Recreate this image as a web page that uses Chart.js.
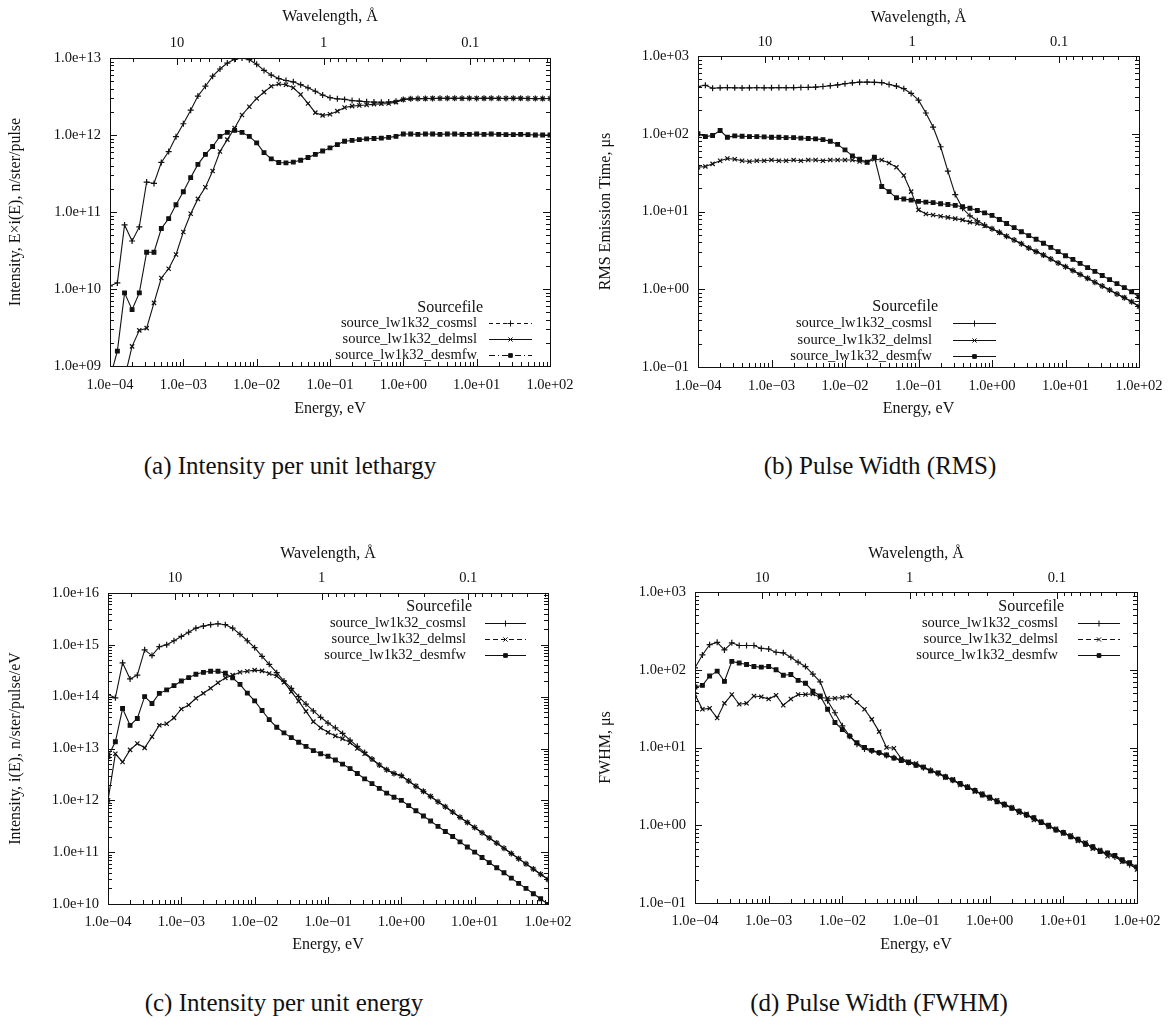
<!DOCTYPE html>
<html>
<head>
<meta charset="utf-8">
<script src="https://cdn.jsdelivr.net/npm/chart.js@4.4.1/dist/chart.umd.min.js"></script>
<style>
  body { margin: 0; background: #fff; width: 1176px; height: 1026px; position: relative; overflow: hidden;
         font-family: "Liberation Serif", "Times New Roman", serif; color: #111; }
  .panel { position: absolute; }
  .cap { position: absolute; font-size: 25px; white-space: nowrap; transform: translate(-50%, -50%); }
</style>
</head>
<body>
<div class="panel" style="left:0;top:0"><canvas id="chA" width="590" height="430"></canvas></div>
<div class="panel" style="left:590px;top:0"><canvas id="chB" width="586" height="430"></canvas></div>
<div class="panel" style="left:0;top:520px"><canvas id="chC" width="590" height="450"></canvas></div>
<div class="panel" style="left:590px;top:520px"><canvas id="chD" width="586" height="450"></canvas></div>
<div class="cap" style="left:290px;top:466px">(a) Intensity per unit lethargy</div>
<div class="cap" style="left:880px;top:466px">(b) Pulse Width (RMS)</div>
<div class="cap" style="left:284px;top:1003px">(c) Intensity per unit energy</div>
<div class="cap" style="left:879px;top:1003px">(d) Pulse Width (FWHM)</div>

<script>
// energy grid, eV (same for every curve)
const energyEV = [
  1.00e-4, 1.26e-4, 1.58e-4, 2.00e-4, 2.51e-4, 3.16e-4, 3.98e-4, 5.01e-4, 6.31e-4, 7.94e-4,
  1.00e-3, 1.26e-3, 1.58e-3, 2.00e-3, 2.51e-3, 3.16e-3, 3.98e-3, 5.01e-3, 6.31e-3, 7.94e-3,
  1.00e-2, 1.26e-2, 1.58e-2, 2.00e-2, 2.51e-2, 3.16e-2, 3.98e-2, 5.01e-2, 6.31e-2, 7.94e-2,
  1.00e-1, 1.26e-1, 1.58e-1, 2.00e-1, 2.51e-1, 3.16e-1, 3.98e-1, 5.01e-1, 6.31e-1, 7.94e-1,
  1.00, 1.26, 1.58, 2.00, 2.51, 3.16, 3.98, 5.01, 6.31, 7.94,
  10.0, 12.6, 15.8, 20.0, 25.1, 31.6, 39.8, 50.1, 63.1, 79.4, 100
];

const seriesNames = ['source_lw1k32_cosmsl', 'source_lw1k32_delmsl', 'source_lw1k32_desmfw'];

// (a) intensity per unit lethargy, n/ster/pulse
const lethCosmsl = [1.1e10,1.2e10,6.8e10,4.2e10,6.4e10,2.45e11,2.35e11,4.4e11,6.1e11,9.5e11,
  1.4e12,2.1e12,3.2e12,4.3e12,5.8e12,7.2e12,8.6e12,9.6e12,1.0e13,9.5e12,
  8.3e12,6.9e12,6.0e12,5.4e12,5.1e12,4.9e12,4.5e12,4.1e12,3.7e12,3.3e12,
  3.05e12,2.95e12,2.9e12,2.8e12,2.75e12,2.7e12,2.68e12,2.66e12,2.68e12,2.75e12,
  2.9e12,2.95e12,2.97e12,2.98e12,2.98e12,3.0e12,3.0e12,2.99e12,3.0e12,3.0e12,
  2.98e12,3.0e12,3.0e12,3.0e12,2.98e12,2.99e12,3.0e12,2.98e12,2.97e12,2.98e12,2.98e12];
const lethDelmsl = [1.5e8,8e8,7e8,1.8e9,2.9e9,3.1e9,6.6e9,1.39e10,1.83e10,2.8e10,
  5.5e10,9.5e10,1.48e11,2.1e11,3.4e11,6.1e11,8.7e11,1.23e12,1.82e12,2.33e12,
  2.98e12,3.6e12,4.3e12,4.6e12,4.5e12,4.1e12,3.35e12,2.57e12,1.95e12,1.8e12,
  1.86e12,2.04e12,2.28e12,2.37e12,2.42e12,2.45e12,2.52e12,2.54e12,2.57e12,2.67e12,
  2.88e12,2.95e12,2.96e12,2.97e12,2.99e12,2.98e12,3.0e12,3.0e12,2.98e12,3.0e12,
  3.0e12,2.99e12,3.0e12,2.98e12,3.0e12,3.0e12,2.99e12,2.98e12,2.98e12,2.97e12,2.98e12];
const lethDesmfw = [7e8,1.56e9,8.9e9,5.4e9,8.9e9,3.0e10,3.0e10,6.1e10,8.2e10,1.24e11,
  1.83e11,2.8e11,4.15e11,5.6e11,7.1e11,9.6e11,1.08e12,1.15e12,1.08e12,9.6e11,
  7.9e11,5.9e11,4.9e11,4.4e11,4.35e11,4.45e11,4.7e11,5.1e11,5.6e11,6.2e11,
  6.8e11,7.5e11,8.3e11,8.5e11,8.7e11,8.9e11,9.0e11,9.1e11,9.3e11,9.6e11,
  1.03e12,1.03e12,1.02e12,1.03e12,1.03e12,1.02e12,1.03e12,1.03e12,1.02e12,1.02e12,
  1.03e12,1.02e12,1.03e12,1.02e12,1.01e12,1.01e12,1.02e12,1.01e12,1.0e12,1.0e12,1.0e12];

// (b) RMS emission time, us
const rmsCosmsl = [405,420,385,390,392,390,388,390,391,390,
  390,392,391,392,394,395,398,405,415,425,
  440,452,460,462,458,455,430,410,380,330,
  270,185,122,68,33,16.5,11,8.8,7.6,6.7,
  6.0,5.4,4.8,4.3,3.85,3.4,3.05,2.75,2.45,2.18,
  1.95,1.74,1.55,1.38,1.23,1.1,0.98,0.87,0.78,0.69,0.6];
const rmsDelmsl = [37,38,41,45,48,47,45,44,45,45,
  46,45,45,46,45,46,46,45,46,46,
  46,46,44,43,47,46,42,37,29,18,
  10.5,9.3,9.0,8.7,8.4,8.1,7.8,7.3,7.0,6.5,
  6.0,5.35,4.8,4.3,3.85,3.4,3.05,2.75,2.45,2.18,
  1.95,1.74,1.55,1.38,1.23,1.1,0.98,0.87,0.78,0.69,0.6];
const rmsDesmfw = [100,92,95,110,90,94,93,92,92,91,
  90,90,89,89,88,87,86,84,80,73,
  62,52,47,43,50,21,18,15,14.5,14,
  13.5,13.2,13,12.6,12.3,12,11.5,11,10.3,9.6,
  8.9,7.9,7.0,6.2,5.5,4.9,4.4,3.9,3.45,3.05,
  2.7,2.42,2.15,1.9,1.7,1.5,1.33,1.18,1.05,0.93,0.80];

// (c) intensity per unit energy, n/ster/pulse/eV
const ieCosmsl = [1.1e14,9.5e13,4.5e14,2.2e14,2.6e14,8.0e14,6.2e14,9.2e14,1.0e15,1.2e15,
  1.45e15,1.75e15,2.1e15,2.3e15,2.45e15,2.55e15,2.45e15,2.1e15,1.6e15,1.2e15,
  8.8e14,6.0e14,4.2e14,2.9e14,2.0e14,1.45e14,1.0e14,7.2e13,5.3e13,4.0e13,
  3.1e13,2.5e13,1.95e13,1.45e13,1.1e13,8.4e12,6.3e12,4.8e12,3.9e12,3.3e12,
  3.0e12,2.35e12,1.87e12,1.49e12,1.18e12,9.4e11,7.5e11,5.95e11,4.7e11,3.75e11,
  2.98e11,2.37e11,1.88e11,1.5e11,1.19e11,9.4e10,7.5e10,5.95e10,4.72e10,3.75e10,2.98e10];
const ieDelmsl = [1.0e12,7.9e12,5.5e12,9.4e12,1.25e13,1.03e13,1.68e13,2.8e13,3.0e13,3.9e13,
  5.8e13,6.9e13,9.3e13,1.16e14,1.45e14,1.85e14,2.3e14,2.6e14,2.95e14,3.1e14,
  3.25e14,3.15e14,2.8e14,2.5e14,1.9e14,1.25e14,8.2e13,5.2e13,3.3e13,2.5e13,
  2.05e13,1.75e13,1.55e13,1.3e13,1.0e13,7.9e12,6.2e12,4.8e12,3.9e12,3.3e12,
  2.95e12,2.36e12,1.88e12,1.49e12,1.19e12,9.4e11,7.5e11,5.95e11,4.72e11,3.76e11,
  2.99e11,2.37e11,1.89e11,1.5e11,1.19e11,9.45e10,7.5e10,5.95e10,4.72e10,3.76e10,2.98e10];
const ieDesmfw = [7e12,1.35e13,5.9e13,2.8e13,3.8e13,1.0e14,7.4e13,1.16e14,1.35e14,1.63e14,
  2.0e14,2.33e14,2.7e14,2.95e14,3.1e14,3.1e14,2.83e14,2.3e14,1.73e14,1.17e14,
  8.3e13,5.4e13,3.6e13,2.57e13,2.0e13,1.62e13,1.32e13,1.1e13,9.1e12,7.9e12,
  7.1e12,6.0e12,5.0e12,4.1e12,3.3e12,2.6e12,2.1e12,1.7e12,1.38e12,1.15e12,
  1.0e12,7.9e11,6.3e11,5.0e11,4.0e11,3.15e11,2.5e11,2.0e11,1.58e11,1.26e11,
  1.0e11,7.9e10,6.3e10,5.0e10,4.0e10,3.15e10,2.5e10,2.0e10,1.58e10,1.26e10,9.8e9];

// (d) FWHM, us
const fwCosmsl = [106,155,210,225,180,222,205,205,205,188,
  185,168,165,145,125,110,88,70,40,28,
  19,14,11,9.6,9.0,8.5,7.9,7.4,6.9,6.4,
  6.0,5.5,5.1,4.6,4.2,3.8,3.4,3.1,2.8,2.5,
  2.25,2.05,1.85,1.68,1.5,1.35,1.22,1.1,0.98,0.88,
  0.80,0.72,0.65,0.58,0.52,0.47,0.43,0.39,0.35,0.31,0.28];
const fwDelmsl = [48,31,32,24,37,48,36,37,46,45,
  42,47,35,42,48,48,49,44,43,43,
  44,46,38,31,23,16,10,9.8,7.2,6.6,
  6.2,5.6,5.0,4.7,4.1,3.9,3.3,3.15,2.7,2.55,
  2.2,2.1,1.8,1.7,1.45,1.4,1.17,1.12,0.95,0.9,
  0.78,0.74,0.63,0.6,0.5,0.48,0.4,0.4,0.34,0.32,0.27];
const fwDesmfw = [60,63,83,96,71,128,122,117,110,108,
  110,100,85,87,73,67,53,46,31,21,
  17,14,11.5,10,9.2,8.6,8.0,7.3,6.8,6.4,
  5.9,5.6,5.0,4.7,4.2,3.8,3.45,3.05,2.8,2.45,
  2.3,2.0,1.87,1.65,1.52,1.35,1.25,1.08,1.0,0.87,
  0.81,0.71,0.66,0.57,0.53,0.46,0.44,0.41,0.36,0.33,0.29];

// tick labels
const xTicks = [1e-4, 1e-3, 1e-2, 1e-1, 1, 10, 100];
const waveTicks = [10, 1, 0.1];
const waveLabels = ['10', '1', '0.1'];
const yTicksA = [1e9, 1e10, 1e11, 1e12, 1e13];
const yTicksB = [1e-1, 1, 10, 100, 1000];
const yTicksC = [1e10, 1e11, 1e12, 1e13, 1e14, 1e15, 1e16];
const yTicksD = [1e-1, 1, 10, 100, 1000];

Chart.defaults.font.family = '"Liberation Serif", "Times New Roman", serif';
Chart.defaults.color = '#111';

// neutron wavelength (A) -> energy (eV)
function waveToEnergy(l) { return 0.0818042 / (l * l); }

function expLabel(v) {
  const e = Math.round(Math.log10(v));
  return '1.0e' + (e < 0 ? '\u2212' : '+') + String(Math.abs(e)).padStart(2, '0');
}

// gnuplot-like frame with inward ticks
const frameTicks = {
  id: 'frameTicks',
  afterDatasetsDraw(chart) {
    const { ctx, chartArea: a, scales } = chart;
    ctx.save();
    ctx.strokeStyle = '#111';
    ctx.lineWidth = 1;
    ctx.strokeRect(Math.round(a.left) + 0.5, Math.round(a.top) + 0.5,
      Math.round(a.right - a.left), Math.round(a.bottom - a.top));
    ctx.beginPath();
    for (let d = -4; d <= 2; d++) {
      for (let m = 1; m <= 9; m++) {
        const v = m * Math.pow(10, d);
        if (v > 100.01) break;
        const px = Math.round(scales.x.getPixelForValue(v)) + 0.5;
        const len = m === 1 ? 7 : 4;
        ctx.moveTo(px, a.bottom); ctx.lineTo(px, a.bottom - len);
      }
    }
    for (let d = -2; d <= 1; d++) {
      for (let m = 1; m <= 9; m++) {
        const e = waveToEnergy(m * Math.pow(10, d));
        if (e < 1e-4 || e > 100) continue;
        const px = Math.round(scales.x2.getPixelForValue(e)) + 0.5;
        const len = m === 1 ? 7 : 4;
        ctx.moveTo(px, a.top); ctx.lineTo(px, a.top + len);
      }
    }
    const y = scales.y;
    const d0 = Math.round(Math.log10(y.min)), d1 = Math.round(Math.log10(y.max));
    for (let d = d0; d <= d1; d++) {
      for (let m = 1; m <= 9; m++) {
        const v = m * Math.pow(10, d);
        if (v > y.max * 1.0001) break;
        const py = Math.round(y.getPixelForValue(v)) + 0.5;
        const len = m === 1 ? 7 : 4;
        ctx.moveTo(a.left, py); ctx.lineTo(a.left + len, py);
        ctx.moveTo(a.right, py); ctx.lineTo(a.right - len, py);
      }
    }
    ctx.stroke();
    ctx.restore();
  }
};

// gnuplot-style key: text right aligned, sample to the right
const gnuLegend = {
  id: 'gnuLegend',
  afterDraw(chart, args, opts) {
    const { ctx, chartArea: a } = chart;
    const baseY = opts.fromTop ? a.top : a.bottom;
    const tx = a.right + opts.textRight;
    ctx.save();
    ctx.fillStyle = '#111';
    ctx.strokeStyle = '#111';
    ctx.textAlign = 'right';
    ctx.textBaseline = 'middle';
    ctx.font = '16px "Liberation Serif", serif';
    ctx.fillText('Sourcefile', tx + 6, baseY + opts.rows[0]);
    ctx.font = '14.5px "Liberation Serif", serif';
    chart.data.datasets.forEach((ds, k) => {
      const yy = Math.round(baseY + opts.rows[k + 1]) + 0.5;
      ctx.fillText(ds.label, tx, yy);
      ctx.lineWidth = 1;
      ctx.setLineDash(opts.dashes[k]);
      ctx.beginPath();
      ctx.moveTo(a.right + opts.lineFrom, yy);
      ctx.lineTo(a.right + opts.lineTo, yy);
      ctx.stroke();
      ctx.setLineDash([]);
      Chart.helpers.drawPoint(ctx, { pointStyle: ds.pointStyle, radius: ds.pointRadius, borderWidth: 1.2, rotation: 0 },
        a.right + (opts.lineFrom + opts.lineTo) / 2, yy);
    });
    ctx.restore();
  }
};

function makeChart(id, o) {
  const styles = ['cross', 'crossRot', 'rect'];
  const datasets = o.series.map((vals, k) => ({
    label: seriesNames[k],
    data: energyEV.map((e, j) => ({ x: e, y: vals[j] })),
    borderColor: '#111',
    backgroundColor: '#111',
    borderWidth: 1.1,
    pointStyle: styles[k],
    pointRadius: k === 2 ? 2.6 : 3,
    pointBorderWidth: 1.2,
    pointHoverRadius: 0,
    tension: 0
  }));
  return new Chart(document.getElementById(id), {
    type: 'line',
    data: { datasets },
    options: {
      responsive: false,
      animation: false,
      events: [],
      layout: { padding: { left: 0, right: o.padRight, top: 0, bottom: 0 } },
      plugins: { legend: { display: false }, tooltip: { enabled: false }, gnuLegend: o.legend },
      scales: {
        x: {
          type: 'logarithmic', position: 'bottom', min: 1e-4, max: 100,
          grid: { display: false, drawTicks: false }, border: { display: false },
          afterBuildTicks: s => { s.ticks = xTicks.map(v => ({ value: v })); },
          ticks: { callback: v => expLabel(v), autoSkip: false, maxRotation: 0, padding: o.xPad, font: { size: 14.5 } },
          title: { display: true, text: 'Energy, eV', font: { size: 16 }, padding: { top: 0, bottom: o.xTitlePad } },
          afterFit: s => { s.height = o.bottomH; }
        },
        x2: {
          type: 'logarithmic', position: 'top', min: 1e-4, max: 100,
          grid: { display: false, drawTicks: false }, border: { display: false },
          afterBuildTicks: s => { s.ticks = waveTicks.map(l => ({ value: waveToEnergy(l) })); },
          ticks: { callback: (v, i) => waveLabels[i], autoSkip: false, maxRotation: 0, padding: o.topPad, font: { size: 14.5 } },
          title: { display: true, text: 'Wavelength, \u00c5', font: { size: 16 }, padding: { top: o.topTitlePad, bottom: 0 } },
          afterFit: s => { s.height = o.topH; }
        },
        y: {
          type: 'logarithmic', position: 'left', min: o.yTicks[0], max: o.yTicks[o.yTicks.length - 1],
          grid: { display: false, drawTicks: false }, border: { display: false },
          afterBuildTicks: s => { s.ticks = o.yTicks.map(v => ({ value: v })); },
          ticks: { callback: v => expLabel(v), autoSkip: false, padding: 9, font: { size: 14.5 } },
          title: { display: true, text: o.yTitle, font: { size: 16 }, padding: { top: 6, bottom: 0 } },
          afterFit: s => { s.width = o.leftW; }
        }
      }
    },
    plugins: [frameTicks, gnuLegend]
  });
}

makeChart('chA', {
  series: [lethCosmsl, lethDelmsl, lethDesmfw], yTicks: yTicksA,
  yTitle: 'Intensity, E\u00d7i(E), n/ster/pulse',
  leftW: 110, padRight: 40, topH: 58, bottomH: 64,
  xPad: 10, xTitlePad: 12, topPad: 6, topTitlePad: 7,
  legend: { fromTop: false, rows: [-58, -43, -27, -11], textRight: -73, lineFrom: -61, lineTo: -18,
            dashes: [[4, 3], [], [6, 3, 1, 3]] }
});
makeChart('chB', {
  series: [rmsCosmsl, rmsDelmsl, rmsDesmfw], yTicks: yTicksB,
  yTitle: 'RMS Emission Time, \u03bcs',
  leftW: 108, padRight: 37, topH: 56, bottomH: 63,
  xPad: 10, xTitlePad: 12, topPad: 5, topTitlePad: 8,
  legend: { fromTop: false, rows: [-60, -44, -27, -11], textRight: -207, lineFrom: -186, lineTo: -143,
            dashes: [[], [], []] }
});
makeChart('chC', {
  series: [ieCosmsl, ieDelmsl, ieDesmfw], yTicks: yTicksC,
  yTitle: 'Intensity, i(E), n/ster/pulse/eV',
  leftW: 108, padRight: 42, topH: 73, bottomH: 66,
  xPad: 9, xTitlePad: 16, topPad: 6, topTitlePad: 24,
  legend: { fromTop: true, rows: [14, 30, 46, 62], textRight: -82, lineFrom: -63, lineTo: -22,
            dashes: [[], [5, 3], []] }
});
makeChart('chD', {
  series: [fwCosmsl, fwDelmsl, fwDesmfw], yTicks: yTicksD,
  yTitle: 'FWHM, \u03bcs',
  leftW: 105, padRight: 39, topH: 72, bottomH: 67,
  xPad: 9, xTitlePad: 16, topPad: 5, topTitlePad: 24,
  legend: { fromTop: true, rows: [15, 31, 47, 63], textRight: -79, lineFrom: -59, lineTo: -17,
            dashes: [[], [5, 3], []] }
});
</script>
</body>
</html>
